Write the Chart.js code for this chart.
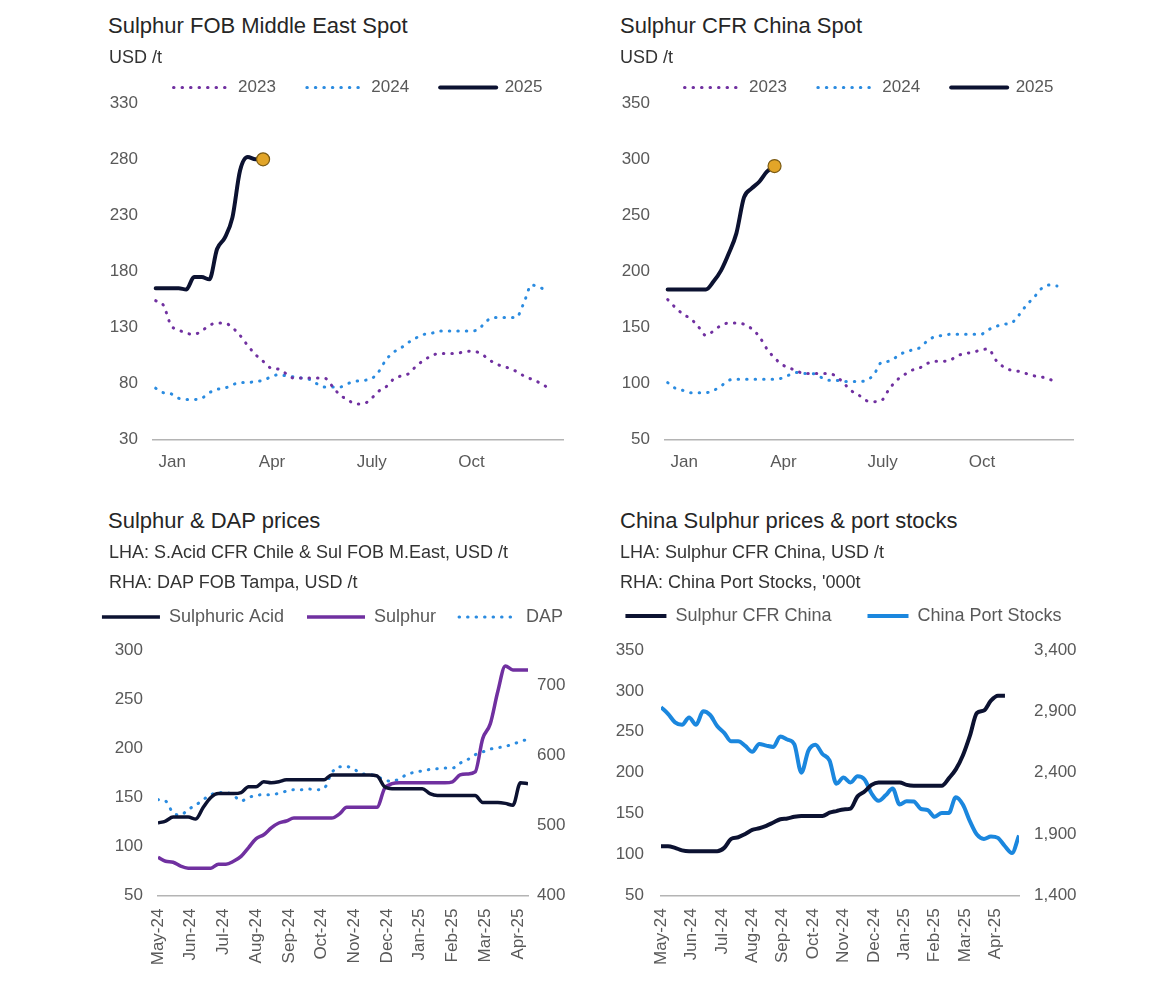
<!DOCTYPE html>
<html>
<head>
<meta charset="utf-8">
<title>Sulphur prices</title>
<script src="https://cdn.jsdelivr.net/npm/chart.js@4.4.1/dist/chart.umd.min.js"></script>
<style>
  body { margin: 0; background: #fff; }
  #page { position: relative; width: 1170px; height: 983px; overflow: hidden; font-family: "Liberation Sans", Arial, sans-serif; }
  .txt { position: absolute; white-space: nowrap; color: #333; z-index: 2; }
  .title { font-size: 22px; line-height: 26px; color: #262626; }
  .sub { font-size: 18px; line-height: 22px; }
  .box { position: absolute; z-index: 1; }
</style>
</head>
<body>
<div id="page">
  <div class="txt title" style="left:108px;top:13px">Sulphur FOB Middle East Spot</div>
  <div class="txt sub" style="left:109px;top:46px">USD /t</div>
  <div class="txt title" style="left:620px;top:13px">Sulphur CFR China Spot</div>
  <div class="txt sub" style="left:620px;top:46px">USD /t</div>
  <div class="txt title" style="left:108px;top:508px">Sulphur &amp; DAP prices</div>
  <div class="txt sub" style="left:109px;top:541px">LHA: S.Acid CFR Chile &amp; Sul FOB M.East, USD /t</div>
  <div class="txt sub" style="left:109px;top:571px">RHA: DAP FOB Tampa, USD /t</div>
  <div class="txt title" style="left:620px;top:508px">China Sulphur prices &amp; port stocks</div>
  <div class="txt sub" style="left:620px;top:541px">LHA: Sulphur CFR China, USD /t</div>
  <div class="txt sub" style="left:620px;top:571px">RHA: China Port Stocks, '000t</div>

  <div class="box" style="left:100px;top:47.5px;width:516px;height:431.8px"><canvas id="cFob"></canvas></div>
  <div class="box" style="left:612px;top:47.5px;width:514px;height:431.8px"><canvas id="cCfr"></canvas></div>
  <div class="box" style="left:70px;top:584.7px;width:525px;height:390.6px"><canvas id="cDap"></canvas></div>
  <div class="box" style="left:589px;top:571px;width:509px;height:404.3px"><canvas id="cPort"></canvas></div>
</div>
<script>
// --- data (weekly) ---
const topMonthLabels = ['Jan', 'Apr', 'July', 'Oct'];
const topMonthIdx = [0, 3, 6, 9];
const bottomMonthLabels = ['May-24', 'Jun-24', 'Jul-24', 'Aug-24', 'Sep-24', 'Oct-24',
    'Nov-24', 'Dec-24', 'Jan-25', 'Feb-25', 'Mar-25', 'Apr-25'];

// Sulphur FOB Middle East spot, USD/t
const fob2023 = [154,150,132,128,125,124,127,132,134,134,130,123,114,106,100,94,93,89,85,85,
    85,85,85,78,70,66,62,62,66,73,77,84,87,89,96,101,105,107,107,107,
    108,109,108,104,99,96,94,91,87,84,81,77];
const fob2024 = [76,72,71,67,66,66,67,72,75,76,79,81,81,82,83,86,88,87,86,85,
    84,80,77,77,77,80,82,83,84,90,101,108,112,117,121,124,125,127,127,127,
    127,127,128,135,139,139,139,139,152,168,166,163];
const fob2025 = [165,165,165,165,164,175,175,173,200,210,228,270,282,280,280];

// Sulphur CFR China spot, USD/t
const cfr2023 = [175,168,162,158,151,143,147,152,154,154,153,149,142,131,123,117,114,111,109,109,
    109,109,107,101,94,90,85,84,85,95,103,108,112,114,118,120,120,121,125,127,
    128,130,131,121,115,112,111,109,107,106,104,101];
const cfr2024 = [101,96,94,92,92,92,94,98,103,104,104,104,104,104,104,105,108,110,109,109,
    106,103,103,102,102,102,103,108,119,120,124,128,130,132,138,142,143,144,144,144,
    144,144,148,151,153,154,161,170,177,185,188,187];
const cfr2025 = [184,184,184,184,184,184,191,201,216,234,266,274,280,289,294];

// Sulphur & DAP prices, May-24 .. Apr-25
const sulphuricAcid = [124,126,130,130,130,128,140,150,154,154,154,155,161,161,166,165,166,168,168,168,
    168,168,168,173,173,173,173,173,173,172,161,159,159,159,159,159,154,152,152,152,
    152,152,152,145,145,145,144,142,165,164];
const sulphurFob = [89,85,84,80,78,78,78,78,82,82,85,90,99,108,112,119,124,126,129,129,
    129,129,129,129,133,140,140,140,140,140,159,164,165,165,165,165,165,165,165,166,
    173,174,176,210,225,258,284,280,280,280];
const dapTampa = [537,535,518,515,523,529,537,544,547,547,543,535,540,543,544,544,546,549,551,551,
    552,551,553,575,584,584,580,574,573,570,565,563,567,573,576,578,580,581,582,582,
    589,594,601,605,609,611,613,616,620,623];

// China sulphur price & port stocks
const sulphurCfrChina = [110,110,108,105,104,104,104,104,104,108,119,121,125,130,132,135,139,143,144,146,
    147,147,147,147,151,153,155,156,171,177,185,188,188,188,188,185,184,184,184,184,
    184,193,204,221,245,273,276,288,294,294];
const chinaPortStocks = [2934,2880,2810,2790,2850,2790,2900,2870,2780,2725,2655,2655,2618,2570,2634,2620,2610,2695,2670,2630,
    2400,2580,2628,2552,2500,2310,2360,2320,2370,2345,2230,2170,2215,2270,2140,2167,2165,2105,2094,2040,
    2072,2072,2200,2140,2005,1895,1860,1880,1868,1800,1745,1888];

// --- styling ---
const NAVY = '#0c1231';
const PURPLE = '#7030a0';
const DOT_BLUE = '#2a8be0';
const PORT_BLUE = '#1b87de';
const GOLD = '#e2a528';
const TICK = '#595959';
const AXIS = '#b4b4b4';
const WEEKS_PER_MONTH = 52 / 12;

Chart.defaults.font.family = '"Liberation Sans", Arial, sans-serif';

// lets the legend box be a bit shorter/taller than chart.js makes it
Chart.register({
    id: 'legendTrim',
    defaults: { px: 0 },
    beforeLayout(chart, args, opts) {
        const lg = chart.legend;
        if (!lg || lg._trimmed) return;
        const fit = lg.fit.bind(lg);
        lg.fit = () => { fit(); lg.height -= opts.px; };
        lg._trimmed = true;
    }
});

const idx = n => Array.from({ length: n }, (_, i) => i);

function legendItems(chart) {
    return chart.data.datasets.map((ds, i) => ({
        text: ds.label,
        strokeStyle: ds.borderColor,
        fillStyle: ds.borderColor,
        lineWidth: ds.borderWidth,
        lineDash: ds.borderDash || [],
        lineCap: ds.borderCapStyle || 'butt',
        pointStyle: 'line',
        fontColor: TICK,
        hidden: false,
        datasetIndex: i
    }));
}

function legendOpts(size, sample, pad) {
    return {
        position: 'top',
        fullSize: true,
        labels: {
            usePointStyle: true,
            pointStyleWidth: sample,
            padding: pad,
            color: TICK,
            font: { size: size },
            generateLabels: legendItems
        }
    };
}

function dotted(label, data, color) {
    return { label, data, borderColor: color, backgroundColor: color, borderWidth: 3,
        borderDash: [0.5, 8], borderCapStyle: 'round', order: 1 };
}

function baseOptions() {
    return {
        animation: false,
        responsive: true,
        maintainAspectRatio: false,
        events: [],
        layout: { padding: 0 },
        elements: {
            point: { radius: 0, hoverRadius: 0 },
            line: { cubicInterpolationMode: 'monotone' }
        }
    };
}

function topChart(id, s2023, s2024, s2025, yMin, yMax) {
    const last = s2025.length - 1;
    const opts = baseOptions();
    opts.plugins = {
        legend: legendOpts(17, 56, 31),
        tooltip: { enabled: false },
        legendTrim: { px: 2.8 }
    };
    opts.scales = {
        x: {
            type: 'linear', min: -0.35, max: 53.1,
            grid: { display: false, drawTicks: false },
            border: { display: true, color: AXIS, width: 1.5 },
            afterBuildTicks: s => { s.ticks = topMonthIdx.map(m => ({ value: (m + 0.5) * WEEKS_PER_MONTH })); },
            afterFit: s => { s.height = 40; },
            ticks: { autoSkip: false, maxRotation: 0, padding: 12, color: TICK, font: { size: 17 },
                callback: (v, i) => topMonthLabels[i] }
        },
        y: {
            min: yMin, max: yMax,
            grid: { display: false, drawTicks: false },
            border: { display: false },
            afterFit: s => { s.width = 53; },
            ticks: { stepSize: 50, padding: 15, color: TICK, font: { size: 17 } }
        },
        // empty right axis so the legend sits centred over the plot
        yPad: {
            position: 'right', display: true,
            grid: { display: false, drawTicks: false },
            border: { display: false },
            ticks: { display: false },
            afterFit: s => { s.width = 53; }
        }
    };
    return new Chart(document.getElementById(id), {
        type: 'line',
        data: {
            labels: idx(52),
            datasets: [
                dotted('2023', s2023, PURPLE),
                dotted('2024', s2024, DOT_BLUE),
                {
                    label: '2025', data: s2025, borderColor: NAVY, backgroundColor: NAVY,
                    borderWidth: 4, borderCapStyle: 'round', order: 0,
                    pointRadius: s2025.map((v, i) => i === last ? 6.5 : 0),
                    pointBackgroundColor: GOLD, pointBorderColor: '#7a5a14', pointBorderWidth: 1.2
                }
            ]
        },
        options: opts
    });
}

function bottomX(max) {
    return {
        type: 'linear', min: 0, max: max,
        grid: { display: false, drawTicks: false },
        border: { display: true, color: AXIS, width: 1.5 },
        afterBuildTicks: s => { s.ticks = bottomMonthLabels.map((l, m) => ({ value: m * WEEKS_PER_MONTH })); },
        afterFit: s => { s.height = 80; },
        ticks: { autoSkip: false, minRotation: 90, maxRotation: 90, padding: 13, color: TICK,
            font: { size: 17 }, callback: (v, i) => bottomMonthLabels[i] }
    };
}

topChart('cFob', fob2023, fob2024, fob2025, 30, 330);
topChart('cCfr', cfr2023, cfr2024, cfr2025, 50, 350);

// Sulphur & DAP prices
(() => {
    const opts = baseOptions();
    opts.plugins = {
        legend: legendOpts(18, 58, 23),
        tooltip: { enabled: false },
        legendTrim: { px: -14.3 }
    };
    opts.scales = {
        x: bottomX(49),
        y: {
            position: 'left', min: 50, max: 300,
            grid: { display: false, drawTicks: false },
            border: { display: false },
            afterFit: s => { s.width = 88; },
            ticks: { stepSize: 50, padding: 15, color: TICK, font: { size: 17 } }
        },
        y2: {
            position: 'right', min: 400, max: 750,
            grid: { display: false, drawTicks: false },
            border: { display: false },
            afterBuildTicks: s => { s.ticks = [400, 500, 600, 700].map(v => ({ value: v })); },
            afterFit: s => { s.width = 67; },
            ticks: { padding: 9, color: TICK, font: { size: 17 } }
        }
    };
    new Chart(document.getElementById('cDap'), {
        type: 'line',
        data: {
            labels: idx(50),
            datasets: [
                { label: 'Sulphuric Acid', data: sulphuricAcid, yAxisID: 'y', borderColor: NAVY,
                  backgroundColor: NAVY, borderWidth: 3.5, order: 0 },
                { label: 'Sulphur', data: sulphurFob, yAxisID: 'y', borderColor: PURPLE,
                  backgroundColor: PURPLE, borderWidth: 3.5, order: 1 },
                Object.assign(dotted('DAP', dapTampa, DOT_BLUE), { yAxisID: 'y2', order: 2 })
            ]
        },
        options: opts
    });
})();

// China sulphur prices & port stocks
(() => {
    const opts = baseOptions();
    opts.plugins = {
        legend: legendOpts(18, 41, 36),
        tooltip: { enabled: false },
        legendTrim: { px: -15 }
    };
    opts.scales = {
        x: bottomX(51),
        y: {
            position: 'left', min: 50, max: 350,
            grid: { display: false, drawTicks: false },
            border: { display: false },
            afterFit: s => { s.width = 72; },
            ticks: { stepSize: 50, padding: 17, color: TICK, font: { size: 17 } }
        },
        y2: {
            position: 'right', min: 1400, max: 3400,
            grid: { display: false, drawTicks: false },
            border: { display: false },
            afterFit: s => { s.width = 79; },
            ticks: { stepSize: 500, padding: 15, color: TICK, font: { size: 17 },
                callback: v => v.toLocaleString('en-US') }
        }
    };
    new Chart(document.getElementById('cPort'), {
        type: 'line',
        data: {
            labels: idx(52),
            datasets: [
                { label: 'Sulphur CFR China', data: sulphurCfrChina, yAxisID: 'y', borderColor: NAVY,
                  backgroundColor: NAVY, borderWidth: 4, order: 0 },
                { label: 'China Port Stocks', data: chinaPortStocks, yAxisID: 'y2', borderColor: PORT_BLUE,
                  backgroundColor: PORT_BLUE, borderWidth: 4, order: 1 }
            ]
        },
        options: opts
    });
})();
</script>
</body>
</html>
